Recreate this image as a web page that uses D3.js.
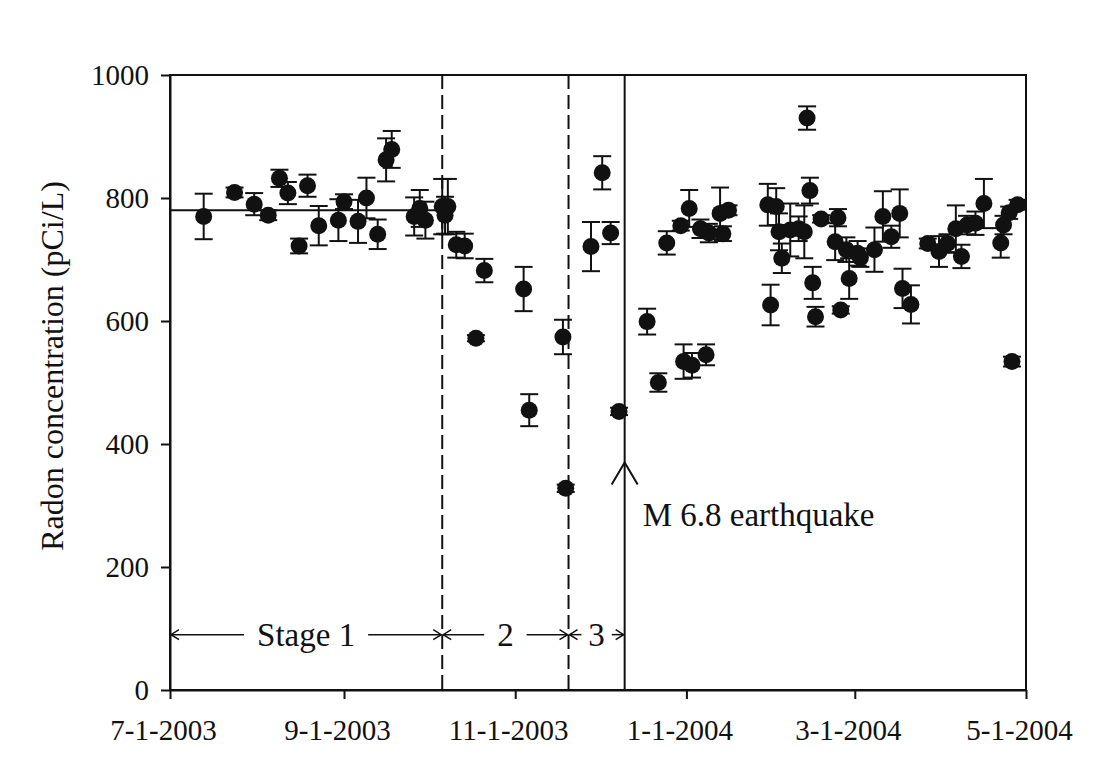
<!DOCTYPE html>
<html>
<head>
<meta charset="utf-8">
<script src="https://cdn.jsdelivr.net/npm/d3@7"></script>
<style>
  body { margin: 0; background: #fff; }
  text { font-family: "Liberation Serif", "Times New Roman", serif; fill: #111; }
</style>
</head>
<body>
<svg id="canvas" width="1109" height="783"></svg>
<script>
// sample dates, radon (pCi/L) and 1-sigma error
var sampleDates = [
  "2003-07-13","2003-07-24","2003-07-31","2003-08-05","2003-08-09","2003-08-12","2003-08-16","2003-08-19",
  "2003-08-23","2003-08-30","2003-09-01","2003-09-06","2003-09-09","2003-09-13","2003-09-16","2003-09-18",
  "2003-09-26","2003-09-28","2003-09-30","2003-10-06","2003-10-07","2003-10-08",
  "2003-10-11","2003-10-14","2003-10-18","2003-10-21","2003-11-04","2003-11-06","2003-11-18","2003-11-19",
  "2003-11-28","2003-12-02","2003-12-05","2003-12-08",
  "2003-12-18","2003-12-22","2003-12-25","2003-12-30","2003-12-31","2004-01-02","2004-01-03","2004-01-06",
  "2004-01-08","2004-01-09","2004-01-13","2004-01-14","2004-01-16",
  "2004-01-30","2004-01-31","2004-02-02","2004-02-03","2004-02-04","2004-02-07","2004-02-10","2004-02-12",
  "2004-02-13","2004-02-14","2004-02-15","2004-02-16","2004-02-18","2004-02-23","2004-02-24","2004-02-25",
  "2004-02-27","2004-02-28","2004-03-02","2004-03-03","2004-03-08","2004-03-11","2004-03-14","2004-03-17",
  "2004-03-18","2004-03-21","2004-03-27","2004-03-31","2004-04-03","2004-04-06","2004-04-08","2004-04-10",
  "2004-04-13","2004-04-16","2004-04-22","2004-04-23","2004-04-25","2004-04-26","2004-04-28"
];
var radonValues = [
  770, 809, 790, 772, 832, 808, 722, 820,
  755, 764, 794, 762, 800, 741, 862, 879,
  770, 783, 764, 786, 772, 786,
  724, 722, 572, 682, 652, 455, 574, 328,
  721, 841, 743, 453,
  599, 500, 727, 755, 534, 783, 528, 750,
  545, 743, 775, 742, 780,
  789, 626, 786, 745, 702, 748, 750, 745,
  930, 812, 662, 607, 766, 729, 768, 618,
  716, 669, 710, 703, 716, 770, 737, 775,
  653, 627, 726, 713, 726, 750, 705, 756,
  759, 791, 727, 756, 776, 534, 789
];
var radonErrors = [
  37, 8, 18, 8, 14, 18, 12, 18,
  32, 34, 12, 35, 33, 24, 35, 30,
  31, 30, 30, 45, 30, 45,
  21, 20, 5, 19, 36, 26, 28, 6,
  40, 27, 18, 6,
  21, 15, 19, 8, 28, 30, 20, 15,
  17, 15, 42, 12, 8,
  34, 33, 30, 30, 24, 43, 20, 43,
  19, 21, 26, 16, 6, 30, 14, 6,
  20, 33, 20, 15, 36, 41, 18, 39,
  32, 31, 8, 25, 15, 38, 19, 15,
  19, 40, 24, 15, 10, 8, 8
];

var xTickDates = ["2003-07-01","2003-09-01","2003-11-01","2004-01-01","2004-03-01","2004-05-01"];
var yTicks = [0, 200, 400, 600, 800, 1000];

var stageStarts = ["2003-07-01","2003-10-06","2003-11-20"];
var stageEnds = ["2003-10-06","2003-11-20","2003-12-10"];
var stageLabels = ["Stage 1","2","3"];
var stageBoundaries = ["2003-10-06","2003-11-20"];
var stage1Mean = 780;
var stage1MeanEnd = "2003-10-08";
var quakeDate = "2003-12-10";
var quakeLabel = "M 6.8 earthquake";
var quakeArrowValue = 370;
var stageArrowValue = 90;

function drawChart() {
    "use strict";

    var svg = d3.select(document.getElementById('canvas'));
    var left = 170, right = 1026, top = 75, bottom = 690;

    var x = d3.scaleUtc()
        .domain([new Date("2003-07-01"), new Date("2004-05-01")])
        .range([left, right]);
    var y = d3.scaleLinear().domain([0, 1000]).range([bottom, top]);

    var points = sampleDates.map(function(d, i) {
        return {date: new Date(d), value: radonValues[i], err: radonErrors[i]};
    });

    // frame
    svg.append('rect')
        .attr('x', left).attr('y', top)
        .attr('width', right - left).attr('height', bottom - top)
        .attr('fill', 'none').attr('stroke', '#111').attr('stroke-width', 2);

    // axes
    var xAxis = svg.append('g')
        .attr('transform', 'translate(0,' + bottom + ')')
        .call(d3.axisBottom(x)
            .tickValues(xTickDates.map(function(d) { return new Date(d); }))
            .tickFormat(function(d) {
                return (d.getUTCMonth() + 1) + '-' + d.getUTCDate() + '-' + d.getUTCFullYear();
            })
            .tickSize(9).tickSizeOuter(0));
    xAxis.selectAll('text').attr('y', 50).attr('dy', 0).attr('dx', -7)
        .style('font-size', '29px');

    var yAxis = svg.append('g')
        .attr('transform', 'translate(' + left + ',0)')
        .call(d3.axisLeft(y).tickValues(yTicks).tickFormat(d3.format('d'))
            .tickSize(9).tickSizeOuter(0));
    yAxis.selectAll('text').attr('x', -21).attr('dy', '0.33em')
        .style('font-size', '29px');

    svg.selectAll('.domain, .tick line')
        .attr('stroke', '#111').attr('stroke-width', 2);
    svg.selectAll('.tick text').style('font-family', '"Liberation Serif", serif').attr('fill', '#111');

    svg.append('text')
        .attr('transform', 'translate(52,366) rotate(-90)')
        .attr('text-anchor', 'middle')
        .attr('dominant-baseline', 'central')
        .style('font-size', '32px')
        .text('Radon concentration (pCi/L)');

    // stage boundaries
    svg.selectAll('line.boundary')
        .data(stageBoundaries)
        .enter().append('line')
        .attr('class', 'boundary')
        .attr('x1', function(d) { return x(new Date(d)); })
        .attr('x2', function(d) { return x(new Date(d)); })
        .attr('y1', top).attr('y2', bottom)
        .attr('stroke', '#111').attr('stroke-width', 2)
        .attr('stroke-dasharray', '14,6');

    // earthquake line + arrow
    var qx = x(new Date(quakeDate));
    svg.append('line')
        .attr('x1', qx).attr('x2', qx).attr('y1', top).attr('y2', bottom)
        .attr('stroke', '#111').attr('stroke-width', 2);
    var qy = y(quakeArrowValue);
    svg.append('path')
        .attr('d', 'M' + (qx - 13) + ',' + (qy + 22) + 'L' + qx + ',' + qy + 'L' + (qx + 13) + ',' + (qy + 22))
        .attr('fill', 'none').attr('stroke', '#111').attr('stroke-width', 2);
    svg.append('text')
        .attr('x', qx + 18).attr('y', qy + 64)
        .style('font-size', '33px')
        .text(quakeLabel);

    // stage 1 mean
    svg.append('line')
        .attr('x1', x(new Date(stageStarts[0]))).attr('x2', x(new Date(stage1MeanEnd)))
        .attr('y1', y(stage1Mean)).attr('y2', y(stage1Mean))
        .attr('stroke', '#111').attr('stroke-width', 2);

    // stage spans
    var sy = y(stageArrowValue);
    stageLabels.forEach(function(label, i) {
        var x0 = x(new Date(stageStarts[i]));
        var x1 = x(new Date(stageEnds[i]));
        var mid = (x0 + x1) / 2;
        var t = svg.append('text')
            .attr('x', mid).attr('y', sy)
            .attr('text-anchor', 'middle')
            .attr('dominant-baseline', 'central')
            .style('font-size', '33px')
            .text(label);
        var half = t.node().getComputedTextLength() / 2;
        var gap = Math.min(13, ((x1 - x0) / 2 - half) * 0.35);
        var lines = [[x0 + 1, mid - half - gap, -1], [mid + half + gap, x1 - 1, 1]];
        lines.forEach(function(l) {
            svg.append('line')
                .attr('x1', l[0]).attr('x2', l[1]).attr('y1', sy).attr('y2', sy)
                .attr('stroke', '#111').attr('stroke-width', 1.5);
            var tip = l[2] < 0 ? l[0] : l[1];
            var d = l[2];
            svg.append('path')
                .attr('d', 'M' + (tip - d * 8) + ',' + (sy - 5) + 'L' + tip + ',' + sy + 'L' + (tip - d * 8) + ',' + (sy + 5))
                .attr('fill', 'none').attr('stroke', '#111').attr('stroke-width', 1.5);
        });
    });

    // error bars
    var bars = svg.append('g').selectAll('g')
        .data(points)
        .enter().append('g')
        .attr('stroke', '#111').attr('stroke-width', 2);
    bars.append('line')
        .attr('x1', function(p) { return x(p.date); })
        .attr('x2', function(p) { return x(p.date); })
        .attr('y1', function(p) { return y(p.value - p.err); })
        .attr('y2', function(p) { return y(p.value + p.err); });
    [-1, 1].forEach(function(s) {
        bars.append('line')
            .attr('x1', function(p) { return x(p.date) - 9; })
            .attr('x2', function(p) { return x(p.date) + 9; })
            .attr('y1', function(p) { return y(p.value + s * p.err); })
            .attr('y2', function(p) { return y(p.value + s * p.err); });
    });

    svg.append('g').selectAll('circle')
        .data(points)
        .enter().append('circle')
        .attr('cx', function(p) { return x(p.date); })
        .attr('cy', function(p) { return y(p.value); })
        .attr('r', 8.5)
        .attr('fill', '#111');
}

drawChart();
</script>
</body>
</html>
